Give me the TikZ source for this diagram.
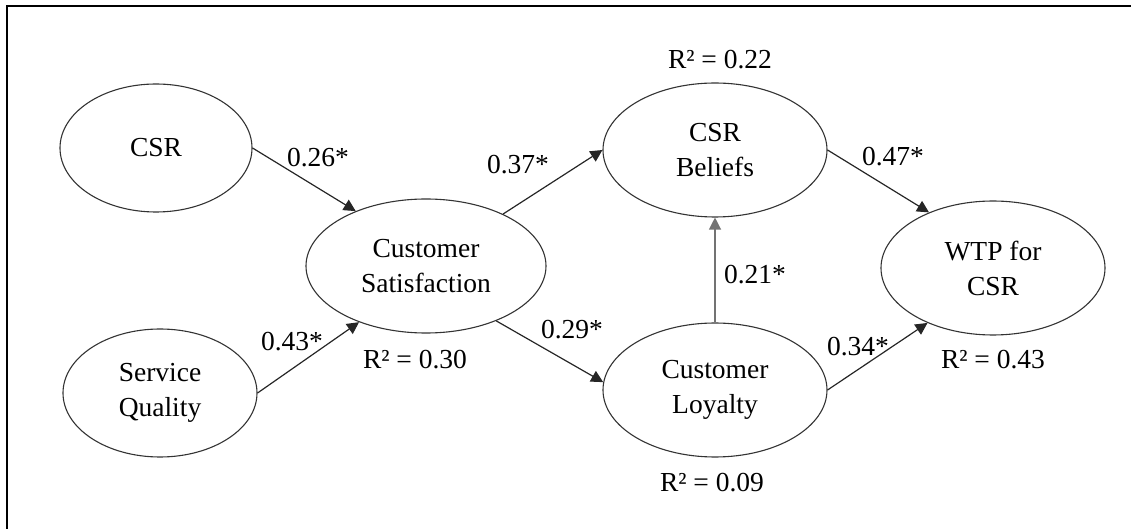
\documentclass[tikz,border=0pt]{standalone}
\usepackage{fontspec}
\setmainfont{Liberation Serif}
\usetikzlibrary{shapes.geometric,arrows.meta}
\begin{document}
\begin{tikzpicture}[x=0.5pt,y=-0.5pt,
  latent/.style={ellipse,draw=black!80,line width=0.55pt,inner sep=0pt,align=center,
    font=\fontsize{13.75pt}{17.5pt}\selectfont},
  path/.style={draw=black!85,line width=0.6pt,-{Triangle[length=6pt,width=6pt]}},
  coef/.style={font=\fontsize{13.75pt}{17.5pt}\selectfont,inner sep=0pt},
  rsq/.style={font=\fontsize{13.75pt}{17.5pt}\selectfont,inner sep=0pt}]
\useasboundingbox (0,0) rectangle (1131,529);
\draw[line width=1pt,black] (7,529) -- (7,6) -- (1131,6);
\node[latent,minimum width=96pt,minimum height=64pt] (csr) at (156,148) {CSR};
\node[latent,minimum width=97pt,minimum height=64pt] (sq) at (160,393) {Service\\Quality};
\node[latent,minimum width=120pt,minimum height=67pt] (cs) at (426,266) {Customer\\Satisfaction};
\node[latent,minimum width=112pt,minimum height=67pt] (csrb) at (715,150) {CSR\\Beliefs};
\node[latent,minimum width=112pt,minimum height=67pt] (cl) at (715,390) {Customer\\Loyalty};
\node[latent,minimum width=112pt,minimum height=67pt] (wtp) at (993,268) {WTP for\\CSR};
\draw[path] (csr.east) -- (cs.142);
\draw[path] (sq.east) -- (cs.220);
\draw[path] (cs.34) -- (csrb.west);
\draw[path] (cs.322) -- (cl.176);
\draw[path,draw=black!55] (cl.north) -- (csrb.south);
\draw[path] (csrb.east) -- (wtp.139);
\draw[path] (cl.east) -- (wtp.220);
\node[coef] (c1) at (318,158) {0.26*};
\node[coef] (c2) at (292,342) {0.43*};
\node[coef] (c3) at (518,165) {0.37*};
\node[coef] (c4) at (572,330) {0.29*};
\node[coef] (c5) at (755,275) {0.21*};
\node[coef] (c6) at (893,157) {0.47*};
\node[coef] (c7) at (858,347) {0.34*};
\node[rsq] (r1) at (720,60) {R² = 0.22};
\node[rsq] (r2) at (415,360) {R² = 0.30};
\node[rsq] (r3) at (712,483) {R² = 0.09};
\node[rsq] (r4) at (993,360) {R² = 0.43};
\end{tikzpicture}
\end{document}
